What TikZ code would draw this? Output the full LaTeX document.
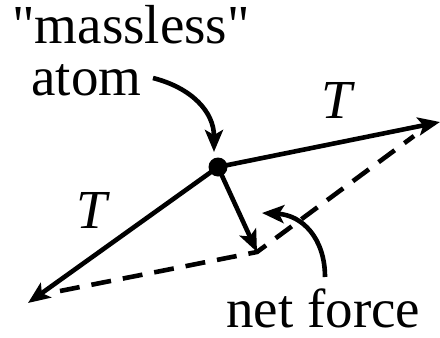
\documentclass[tikz,border=0pt]{standalone}
\usepackage{fontspec}
\setmainfont{Liberation Serif}[Ligatures=TeXOff]
\usetikzlibrary{arrows.meta,positioning}

\tikzset{
  vec/.style={line width=2.3pt, -{Stealth[length=11pt,width=9pt,inset=2.5pt]}},
  guide/.style={line width=2.3pt, dash pattern=on 10pt off 6pt},
  lbl/.style={inner sep=0pt, font=\fontsize{27.5}{32}\selectfont},
}

\begin{document}
\begin{tikzpicture}[x=0.5pt, y=-0.5pt]
  \useasboundingbox (0,0) rectangle (440,338);
  % atom and the two tensions
  \node[circle, fill, inner sep=0pt, minimum size=9.5pt] (atom) at (218,167) {};
  \coordinate (right) at (440,122);
  \coordinate (left) at (28,303);
  \coordinate (net) at (257,252);
  \draw[vec] (atom.center) -- (right);
  \draw[vec] (atom.center) -- (left);
  \draw[vec] (atom.center) -- (net);
  % parallelogram
  \draw[guide] (60,291) -- (net) -- (414,136);
  % labels
  \node[lbl, anchor=base west] (massless) at (12,43) {"massless"};
  \node[lbl, anchor=base west] (atomtxt) at (31,95) {atom};
  \node[lbl, anchor=base west] (netforce) at (226,327) {net force};
  \node[lbl] (Tright) at (338,100) {\textit{T}};
  \node[lbl] (Tleft) at (93,210) {\textit{T}};
  % pointers
  \coordinate (ptrA) at (153,78);
  \coordinate (ptrB) at (325,277);
  \draw[vec] (ptrA) .. controls (192,88) and (214,112) .. (214,152);
  \draw[vec] (ptrB) .. controls (325,238) and (302,215) .. (262,213);
\end{tikzpicture}
\end{document}
